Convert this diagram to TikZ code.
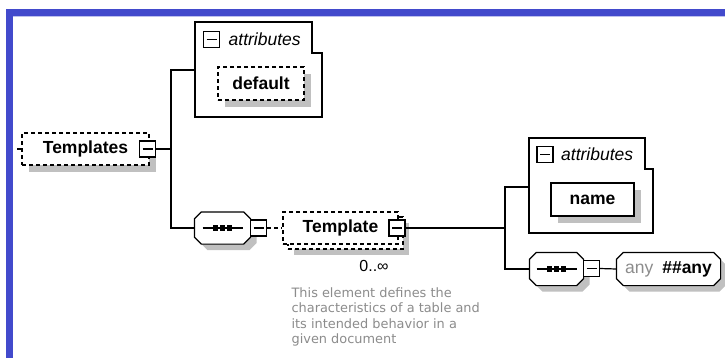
\documentclass[tikz,border=0pt]{standalone}
\usepackage{fontspec}
\setmainfont{Liberation Sans}
\newfontfamily\descfont{DejaVu Sans}
\usetikzlibrary{shadows, positioning}
\pgfdeclarelayer{back}
\pgfdeclarelayer{mid}
\pgfsetlayers{back,mid,main}
\definecolor{framebl}{RGB}{66,74,204}
\definecolor{shadowgr}{RGB}{192,192,192}
\definecolor{descgr}{RGB}{140,140,140}
% octagon round a node, corners cut by 7pt
\newcommand\octpath[1]{([xshift=7pt]#1.north west) -- ([xshift=-7pt]#1.north east)
  -- ([yshift=-7pt]#1.north east) -- ([yshift=7pt]#1.south east)
  -- ([xshift=-7pt]#1.south east) -- ([xshift=7pt]#1.south west)
  -- ([yshift=7pt]#1.south west) -- ([yshift=-7pt]#1.north west) -- cycle}
\tikzset{
  elem/.style={
    draw,
    rectangle,
    fill=white,
    inner sep=0pt,
    minimum height=32pt,
    font=\fontsize{17.5}{20}\selectfont\bfseries,
    general shadow={fill=shadowgr, shadow xshift=6.5pt, shadow yshift=-6.5pt}
  },
  optelem/.style={
    elem,
    dash pattern=on 4pt off 3pt
  },
  multielem/.style={
    draw,
    rectangle,
    fill=white,
    inner sep=0pt,
    minimum height=32pt,
    dash pattern=on 4pt off 3pt,
    font=\fontsize{17.5}{20}\selectfont\bfseries,
    general shadow={fill=shadowgr, shadow xshift=11pt, shadow yshift=-11pt},
    general shadow={draw, fill=white, dash pattern=on 4pt off 3pt,
      shadow xshift=5pt, shadow yshift=-5pt}
  },
  octnode/.style={
    rectangle,
    inner sep=0pt,
    append after command={\pgfextra{
      \begin{pgfonlayer}{mid}
        \fill[shadowgr, transform canvas={shift={(6pt,-6pt)}}] \octpath{\tikzlastnode};
        \filldraw[fill=white, line width=1.2pt] \octpath{\tikzlastnode};
      \end{pgfonlayer}
    }}
  },
  seqnode/.style={
    octnode,
    minimum width=55pt,
    minimum height=31pt,
    append after command={\pgfextra{
      \draw[line width=1.2pt] ([xshift=-20pt]\tikzlastnode.center) -- ([xshift=20pt]\tikzlastnode.center);
      \foreach \d in {-7,0,7}
        \fill[black] ([xshift=\d pt]\tikzlastnode.center) +(-2.6pt,-2.6pt) rectangle +(2.6pt,2.6pt);
    }}
  },
  anynode/.style={
    octnode,
    font=\fontsize{17.5}{20}\selectfont\bfseries
  },
  minusbox/.style={
    draw,
    solid,
    rectangle,
    fill=white,
    inner sep=0pt,
    minimum size=16pt,
    path picture={
      \draw ([xshift=3pt]path picture bounding box.west) -- ([xshift=-3pt]path picture bounding box.east);
    }
  },
  attrlabel/.style={
    inner sep=0pt,
    font=\fontsize{17.5}{20}\selectfont\itshape
  },
  desc/.style={
    inner sep=0pt,
    align=left,
    text=descgr,
    font=\descfont\fontsize{12.9}{15.4}\selectfont
  }
}

\begin{document}
\begin{tikzpicture}[x=1pt, y=-1pt, every path/.style={line width=1.2pt}]
  \useasboundingbox (0,0) rectangle (725,357);
  % frame
  \begin{pgfonlayer}{back}
    \fill[framebl] (6,9) rectangle (735,365);
    \fill[white] (13,16) rectangle (735,365);
    \draw[framebl!35, line width=0.8pt] (13,16.6) -- (735,16.6);
  \end{pgfonlayer}

  % Templates
  \coordinate (root) at (17,149);
  \node[optelem, minimum width=127pt] (tpls) at (85.5,149) {Templates\hspace{6pt}};
  \node[minusbox] (tplsminus) at (147.5,149) {};
  \draw[dash pattern=on 4pt off 3pt] (root) -- (tpls.west);

  % attributes of Templates
  \draw[fill=white] (195,117) -- (195,22) -- (312,22) -- (312,53) -- (322,53) -- (322,117) -- cycle;
  \coordinate (attrA) at (195,70);
  \node[minusbox] (attrAminus) at (211.5,39.5) {};
  \node[attrlabel, anchor=west, right=8pt of attrAminus] (attrAlabel) {attributes};
  \node[optelem, minimum width=86pt, minimum height=33pt] (default) at (261,83.5) {default};

  % sequence -> Template
  \node[seqnode] (seqA) at (222.5,228) {};
  \node[minusbox] (seqAminus) at (258.5,228) {};
  \node[multielem, minimum width=115pt] (tpl) at (340.5,228) {Template};
  \node[minusbox] (tplminus) at (397,228) {};
  \node[font=\fontsize{16}{18}\selectfont] (card) at (374,266) {0..∞};
  \node[desc, anchor=north west] (doc) at (291,287) {This element defines the\\characteristics of a table and\\its intended behavior in a\\given document};

  \coordinate (forkA) at (171,149);
  \draw (tplsminus.east) -- (forkA);
  \draw (attrA) -| (forkA) |- (seqA.west);
  \draw[dash pattern=on 4pt off 3pt] (seqAminus.east) -- (tpl.west);

  % attributes of Template
  \draw[fill=white] (529,233) -- (529,138) -- (645,138) -- (645,169) -- (653,169) -- (653,233) -- cycle;
  \coordinate (attrB) at (529,187);
  \node[minusbox] (attrBminus) at (545,154.5) {};
  \node[attrlabel, anchor=west, right=7pt of attrBminus] (attrBlabel) {attributes};
  \node[elem, minimum width=83pt, minimum height=33pt] (name) at (592.5,199.5) {name};

  % sequence -> any
  \node[seqnode, minimum width=53pt, minimum height=32pt] (seqB) at (556.5,269) {};
  \node[minusbox] (seqBminus) at (591.5,268.5) {};
  \node[anynode, minimum width=103pt, minimum height=32pt] (any) at (668.5,269) {{\mdseries\color{descgr}any}\hspace{9pt}\#\#any};

  \coordinate (forkB) at (505,228);
  \draw (tplminus.east) -- (forkB);
  \draw (attrB) -| (forkB) |- (seqB.west);
  \draw (seqBminus.east) -- (any.west);
\end{tikzpicture}
\end{document}
